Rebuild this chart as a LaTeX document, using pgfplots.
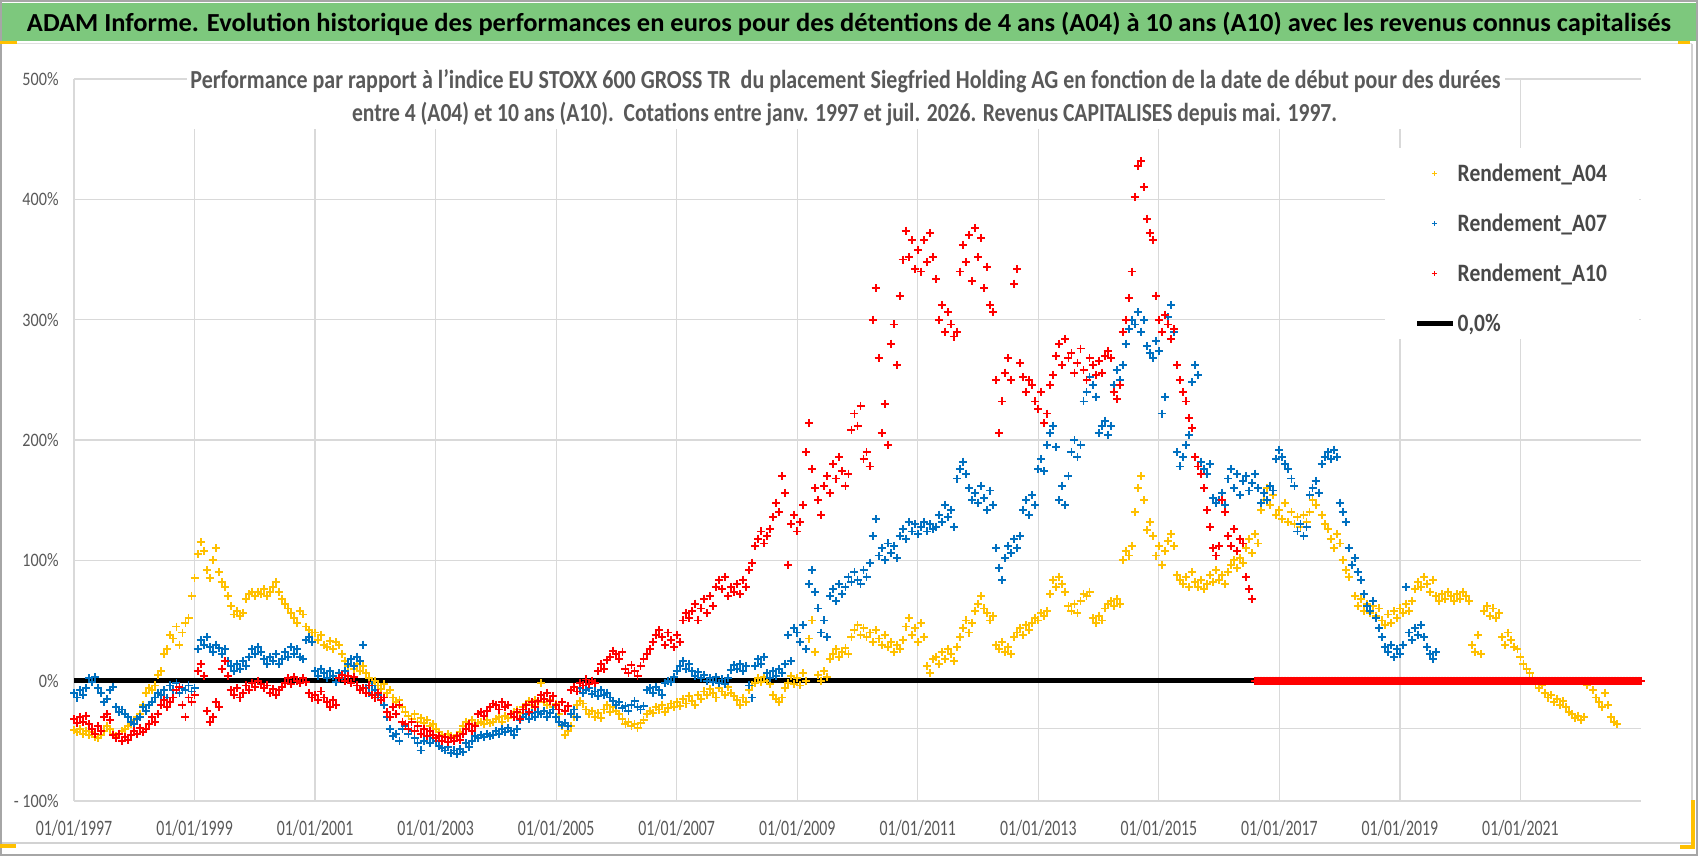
\documentclass[border=0pt]{standalone}
\usepackage{pgfplots}
\pgfplotsset{compat=1.18}
\usepackage{fontspec}
\setmainfont{Carlito}
\definecolor{cyel}{HTML}{FFC000}
\definecolor{cblu}{HTML}{0070C0}
\definecolor{cred}{HTML}{FF0000}
\definecolor{gridg}{HTML}{D9D9D9}
\definecolor{labg}{HTML}{595959}
\definecolor{legg}{HTML}{484848}
\definecolor{bann}{RGB}{125,200,125}
\newcommand{\xl}[1]{\scalebox{0.72}[1]{01/01/#1}}
\newcommand{\yl}[1]{\scalebox{0.85}[1]{#1}}
\newcommand{\lgt}[1]{\scalebox{0.86}[1]{\bfseries #1}}
\pgfplotsset{zeroleg/.style={legend image code/.code={\draw[##1, line width=2.3pt] (0pt,0pt) -- (18pt,0pt);}}}
\begin{document}
\begin{tikzpicture}
\fill[white] (0pt,0pt) rectangle (849pt,428pt);
\draw[gray!70, line width=0.8pt] (0.4pt,0.4pt) rectangle (848.6pt,427.6pt);
\fill[bann] (1.2pt,407.6pt) rectangle (847.8pt,426.6pt);
\draw[gray!25, line width=0.8pt] (1.2pt,406.3pt) -- (846pt,406.3pt);
\draw[gray!35, line width=0.6pt] (846pt,406pt) -- (846pt,6.5pt) -- (1.2pt,6.5pt);
\fill[cyel] (0pt,405.8pt) rectangle (8.5pt,407.6pt);
\fill[cyel] (839pt,405.8pt) rectangle (845pt,407.6pt);
\fill[cyel] (845.5pt,4.5pt) rectangle (847.5pt,28pt);
\fill[cyel] (840pt,3.5pt) rectangle (847.5pt,5.5pt);
\fill[cyel] (0pt,4pt) rectangle (8pt,6pt);
\node[anchor=base, inner sep=0pt] at (424.5pt,412.2pt) {\resizebox{822pt}{\height}{\fontsize{13}{16}\selectfont\bfseries ADAM Informe. Evolution historique des performances en euros pour des détentions de 4 ans (A04) à 10 ans (A10) avec les revenus connus capitalisés}};
\begin{axis}[
  at={(37pt,27.5pt)}, anchor=south west,
  scale only axis, width=783.5pt, height=361pt,
  xmin=0, xmax=26, ymin=-100, ymax=500,
  clip=false,
  xtick={0,2,...,24}, ytick={-100,0,...,500},
  xticklabels={\xl{1997},\xl{1999},\xl{2001},\xl{2003},\xl{2005},\xl{2007},\xl{2009},\xl{2011},\xl{2013},\xl{2015},\xl{2017},\xl{2019},\xl{2021}},
  yticklabels={\yl{- 100\%},\yl{0\%},\yl{100\%},\yl{200\%},\yl{300\%},\yl{400\%},\yl{500\%}},
  grid=major, major grid style={draw=gridg, line width=0.6pt},
  axis line style={draw=none}, major tick length=0pt,
  tick label style={text=labg},
  xticklabel style={anchor=base, inner sep=0pt, yshift=-17.5pt, font=\fontsize{11}{13}\selectfont},
  yticklabel style={anchor=east, inner sep=0pt, xshift=-7.5pt, font=\fontsize{9.5}{11}\selectfont},
  legend cell align=left,
  legend style={at={(rel axis cs:0.8556,0.8886)}, anchor=north west, draw=none, fill=none,
    inner sep=0pt, row sep=11.4pt, column sep=0pt, text=legg,
    font=\fontsize{12.5}{15}\selectfont,
    nodes={inner sep=1pt, text height=10pt, text depth=1.6pt}},
  legend image post style={mark size=1.3pt, line width=0.7pt},
  mk/.style={only marks, mark=+, mark size=2pt, line width=0.95pt},
]
\fill[white] (rel axis cs:0.8366,0.9044) rectangle (rel axis cs:0.9985,0.64);
\addplot[forget plot, draw=gridg, line width=0.6pt] coordinates {(0,-40) (26,-40)};
\addplot[forget plot, draw=black, line width=2.3pt] coordinates {(0,0) (19.6,0)};
\addplot[mk, color=cyel] coordinates {
(0,-41)(0.05,-43)(0.10,-40)(0.15,-44)(0.20,-42)(0.25,-45)(0.30,-43)(0.35,-47)(0.40,-48)(0.45,-45)
(0.50,-42)(0.55,-38)(0.60,-40)(0.65,-44)(0.70,-46)(0.75,-44)(0.80,-42)(0.85,-40)(0.90,-38)(0.95,-36)
(1.00,-33)(1.05,-30)(1.10,-28)(1.15,-20)(1.20,-10)(1.25,-6)(1.30,-8)(1.35,-4)(1.40,5)(1.45,8)
(1.50,22)(1.55,26)(1.60,38)(1.65,35)(1.70,45)(1.75,30)(1.80,40)(1.85,48)(1.90,52)(1.95,70)
(2.00,85)(2.05,105)(2.10,115)(2.15,108)(2.20,92)(2.25,85)(2.30,100)(2.35,110)(2.40,90)(2.45,82)
(2.50,78)(2.55,70)(2.60,62)(2.65,55)(2.70,58)(2.75,54)(2.80,56)(2.85,68)(2.90,72)(2.95,74)
(3.00,70)(3.05,74)(3.10,72)(3.15,76)(3.20,70)(3.25,74)(3.30,78)(3.35,82)(3.40,74)(3.45,68)
(3.50,64)(3.55,60)(3.60,56)(3.65,52)(3.70,48)(3.75,58)(3.80,55)(3.85,45)(3.90,42)(3.95,40)
(4.00,40)(4.05,34)(4.10,38)(4.15,30)(4.20,28)(4.25,33)(4.30,26)(4.35,32)(4.40,30)(4.45,22)
(4.50,16)(4.55,12)(4.60,18)(4.65,10)(4.70,14)(4.75,8)(4.80,12)(4.85,6)(4.90,2)(4.95,-2)
(5.00,0)(5.05,-4)(5.10,-7)(5.15,-3)(5.20,-10)(5.25,-8)(5.30,-14)(5.35,-18)(5.40,-16)(5.45,-22)
(5.50,-26)(5.55,-29)(5.60,-32)(5.65,-28)(5.70,-34)(5.75,-31)(5.80,-35)(5.85,-33)(5.90,-38)(5.95,-36)
(6.00,-40)(6.05,-43)(6.10,-45)(6.15,-47)(6.20,-44)(6.25,-46)(6.30,-48)(6.35,-45)(6.40,-43)(6.45,-38)
(6.50,-34)(6.55,-36)(6.60,-33)(6.65,-37)(6.70,-35)(6.75,-34)(6.80,-36)(6.85,-33)(6.90,-35)(6.95,-34)
(7.00,-32)(7.05,-30)(7.10,-34)(7.15,-29)(7.20,-31)(7.25,-28)(7.30,-26)(7.35,-24)(7.40,-27)(7.45,-22)
(7.50,-19)(7.55,-17)(7.60,-20)(7.65,-16)(7.70,-18)(7.75,-2)(7.80,-18)(7.85,-20)(7.90,-16)(7.95,-22)
(8.00,-19)(8.05,-28)(8.10,-38)(8.15,-45)(8.20,-42)(8.25,-38)(8.30,-30)(8.35,-20)(8.40,-17)(8.45,-19)
(8.50,-24)(8.55,-28)(8.60,-25)(8.65,-30)(8.70,-27)(8.75,-31)(8.80,-24)(8.85,-20)(8.90,-26)(8.95,-22)
(9.00,-25)(9.05,-28)(9.10,-32)(9.15,-36)(9.20,-34)(9.25,-38)(9.30,-36)(9.35,-39)(9.40,-35)(9.45,-33)
(9.50,-28)(9.55,-25)(9.60,-27)(9.65,-22)(9.70,-24)(9.75,-20)(9.80,-26)(9.85,-23)(9.90,-19)(9.95,-22)
(10.00,-18)(10.05,-21)(10.10,-15)(10.15,-19)(10.20,-13)(10.25,-17)(10.30,-20)(10.35,-12)(10.40,-15)(10.45,-9)
(10.50,-12)(10.55,-7)(10.60,-10)(10.65,-14)(10.70,-6)(10.75,-9)(10.80,-12)(10.85,-5)(10.90,-10)(10.95,-13)
(11.00,-16)(11.05,-20)(11.10,-14)(11.15,-18)(11.20,-8)(11.25,-4)(11.30,-2)(11.35,2)(11.40,-1)(11.45,3)
(11.50,0)(11.55,-3)(11.60,-12)(11.65,-15)(11.70,-18)(11.75,-14)(11.80,-6)(11.85,-2)(11.90,4)(11.95,-3)
(12.00,2)(12.05,-4)(12.10,6)(12.15,0)(12.20,35)(12.25,50)(12.30,24)(12.35,5)(12.40,0)(12.45,8)
(12.50,3)(12.55,18)(12.60,22)(12.65,26)(12.70,20)(12.75,24)(12.80,27)(12.85,22)(12.90,36)(12.95,42)
(13.00,46)(13.05,38)(13.10,44)(13.15,36)(13.20,40)(13.25,32)(13.30,42)(13.35,35)(13.40,30)(13.45,38)
(13.50,28)(13.55,32)(13.60,24)(13.65,30)(13.70,26)(13.75,34)(13.80,45)(13.85,52)(13.90,38)(13.95,44)
(14.00,32)(14.05,48)(14.10,36)(14.15,12)(14.20,6)(14.25,18)(14.30,20)(14.35,14)(14.40,24)(14.45,18)
(14.50,26)(14.55,22)(14.60,16)(14.65,28)(14.70,36)(14.75,44)(14.80,50)(14.85,40)(14.90,48)(14.95,58)
(15.00,64)(15.05,70)(15.10,60)(15.15,56)(15.20,50)(15.25,54)(15.30,30)(15.35,26)(15.40,32)(15.45,24)
(15.50,28)(15.55,22)(15.60,36)(15.65,40)(15.70,44)(15.75,38)(15.80,46)(15.85,42)(15.90,48)(15.95,52)
(16.00,50)(16.05,56)(16.10,54)(16.15,58)(16.20,72)(16.25,84)(16.30,78)(16.35,86)(16.40,80)(16.45,74)
(16.50,62)(16.55,58)(16.60,64)(16.65,56)(16.70,66)(16.75,72)(16.80,70)(16.85,74)(16.90,52)(16.95,48)
(17.00,54)(17.05,50)(17.10,60)(17.15,64)(17.20,66)(17.25,62)(17.30,68)(17.35,64)(17.40,100)(17.45,108)
(17.50,104)(17.55,112)(17.60,140)(17.65,160)(17.70,170)(17.75,150)(17.80,125)(17.85,132)(17.90,120)(17.95,104)
(18.00,112)(18.05,96)(18.10,108)(18.15,116)(18.20,122)(18.25,112)(18.30,88)(18.35,84)(18.40,80)(18.45,86)
(18.50,78)(18.55,90)(18.60,82)(18.65,78)(18.70,84)(18.75,76)(18.80,80)(18.85,88)(18.90,82)(18.95,92)
(19.00,84)(19.05,88)(19.10,80)(19.15,90)(19.20,96)(19.25,100)(19.30,94)(19.35,102)(19.40,98)(19.45,110)
(19.50,118)(19.55,106)(19.60,122)(19.65,114)(19.70,142)(19.75,150)(19.80,160)(19.85,146)(19.90,154)(19.95,138)
(20.00,142)(20.05,134)(20.10,148)(20.15,132)(20.20,140)(20.25,130)(20.30,136)(20.35,128)(20.40,138)(20.45,132)
(20.50,140)(20.55,150)(20.60,146)(20.65,156)(20.70,138)(20.75,130)(20.80,126)(20.85,118)(20.90,110)(20.95,122)
(21.00,114)(21.05,100)(21.10,92)(21.15,86)(21.20,96)(21.25,70)(21.30,62)(21.35,68)(21.40,58)(21.45,64)
(21.50,56)(21.55,62)(21.60,54)(21.65,60)(21.70,50)(21.75,46)(21.80,55)(21.85,48)(21.90,58)(21.95,52)
(22.00,60)(22.05,56)(22.10,64)(22.15,58)(22.20,66)(22.25,76)(22.30,82)(22.35,78)(22.40,86)(22.45,80)
(22.50,74)(22.55,84)(22.60,70)(22.65,66)(22.70,72)(22.75,68)(22.80,74)(22.85,70)(22.90,66)(22.95,72)
(23.00,68)(23.05,74)(23.10,70)(23.15,66)(23.20,30)(23.25,24)(23.30,38)(23.35,22)(23.40,58)(23.45,62)
(23.50,54)(23.55,60)(23.60,52)(23.65,56)(23.70,36)(23.75,30)(23.80,40)(23.85,34)(23.90,28)(23.95,26)
(24.00,20)(24.05,14)(24.10,10)(24.15,6)(24.20,2)(24.25,-2)(24.30,-6)(24.35,-4)(24.40,-10)(24.45,-14)
(24.50,-12)(24.55,-18)(24.60,-15)(24.65,-20)(24.70,-17)(24.75,-22)(24.80,-26)(24.85,-28)(24.90,-31)(24.95,-29)
(25.00,-33)(25.05,-30)(25.10,-4)(25.15,0)(25.20,-8)(25.25,-14)(25.30,-18)(25.35,-22)(25.40,-10)(25.45,-20)
(25.50,-30)(25.55,-34)(25.60,-36)
};
\addlegendentry{\lgt{Rendement\_A04}}
\addplot[mk, color=cblu] coordinates {
(0,-10)(0.05,-14)(0.10,-8)(0.15,-12)(0.20,-6)(0.25,2)(0.30,-1)(0.35,3)(0.40,-6)(0.45,-10)
(0.50,-18)(0.55,-15)(0.60,-8)(0.65,-5)(0.70,-22)(0.75,-26)(0.80,-24)(0.85,-28)(0.90,-30)(0.95,-34)
(1.00,-36)(1.05,-32)(1.10,-30)(1.15,-22)(1.20,-25)(1.25,-20)(1.30,-18)(1.35,-14)(1.40,-10)(1.45,-12)
(1.50,-8)(1.55,-14)(1.60,-4)(1.65,-8)(1.70,-2)(1.75,-10)(1.80,-6)(1.85,-8)(1.90,-4)(1.95,-9)
(2.00,-6)(2.05,26)(2.10,34)(2.15,30)(2.20,36)(2.25,28)(2.30,24)(2.35,30)(2.40,27)(2.45,22)
(2.50,26)(2.55,16)(2.60,12)(2.65,8)(2.70,14)(2.75,10)(2.80,16)(2.85,12)(2.90,20)(2.95,26)
(3.00,22)(3.05,28)(3.10,24)(3.15,18)(3.20,14)(3.25,20)(3.30,16)(3.35,22)(3.40,14)(3.45,18)
(3.50,24)(3.55,20)(3.60,28)(3.65,22)(3.70,26)(3.75,20)(3.80,18)(3.85,34)(3.90,36)(3.95,32)
(4.00,8)(4.05,4)(4.10,10)(4.15,6)(4.20,2)(4.25,8)(4.30,4)(4.35,-1)(4.40,6)(4.45,2)
(4.50,8)(4.55,14)(4.60,18)(4.65,12)(4.70,20)(4.75,16)(4.80,30)(4.85,-6)(4.90,-10)(4.95,-4)
(5.00,-8)(5.05,-12)(5.10,-14)(5.15,-20)(5.20,-30)(5.25,-40)(5.30,-46)(5.35,-44)(5.40,-50)(5.45,-40)
(5.50,-38)(5.55,-44)(5.60,-42)(5.65,-48)(5.70,-52)(5.75,-58)(5.80,-50)(5.85,-46)(5.90,-52)(5.95,-48)
(6.00,-50)(6.05,-54)(6.10,-56)(6.15,-58)(6.20,-55)(6.25,-60)(6.30,-58)(6.35,-61)(6.40,-57)(6.45,-59)
(6.50,-52)(6.55,-55)(6.60,-50)(6.65,-46)(6.70,-48)(6.75,-45)(6.80,-47)(6.85,-44)(6.90,-46)(6.95,-45)
(7.00,-42)(7.05,-44)(7.10,-40)(7.15,-43)(7.20,-39)(7.25,-42)(7.30,-45)(7.35,-40)(7.40,-33)(7.45,-30)
(7.50,-28)(7.55,-32)(7.60,-27)(7.65,-30)(7.70,-26)(7.75,-28)(7.80,-25)(7.85,-30)(7.90,-27)(7.95,-24)
(8.00,-30)(8.05,-34)(8.10,-37)(8.15,-35)(8.20,-38)(8.25,-28)(8.30,-24)(8.35,-30)(8.40,-6)(8.45,-10)
(8.50,-8)(8.55,-6)(8.60,-11)(8.65,-9)(8.70,-13)(8.75,-8)(8.80,-12)(8.85,-10)(8.90,-14)(8.95,-17)
(9.00,-20)(9.05,-18)(9.10,-23)(9.15,-21)(9.20,-25)(9.25,-20)(9.30,-17)(9.35,-22)(9.40,-24)(9.45,-21)
(9.50,-8)(9.55,-6)(9.60,-10)(9.65,-5)(9.70,-8)(9.75,-12)(9.80,-2)(9.85,0)(9.90,-1)(9.95,3)
(10.00,8)(10.05,12)(10.10,16)(10.15,10)(10.20,14)(10.25,8)(10.30,4)(10.35,7)(10.40,2)(10.45,5)
(10.50,0)(10.55,2)(10.60,-1)(10.65,3)(10.70,-2)(10.75,1)(10.80,-3)(10.85,2)(10.90,9)(10.95,13)
(11.00,10)(11.05,14)(11.10,8)(11.15,12)(11.20,-4)(11.25,-14)(11.30,12)(11.35,18)(11.40,14)(11.45,20)
(11.50,6)(11.55,2)(11.60,8)(11.65,4)(11.70,10)(11.75,6)(11.80,14)(11.85,38)(11.90,16)(11.95,44)
(12.00,40)(12.05,32)(12.10,46)(12.15,26)(12.20,80)(12.25,92)(12.30,74)(12.35,60)(12.40,40)(12.45,50)
(12.50,36)(12.55,70)(12.60,76)(12.65,66)(12.70,80)(12.75,72)(12.80,78)(12.85,86)(12.90,82)(12.95,90)
(13.00,84)(13.05,80)(13.10,92)(13.15,86)(13.20,98)(13.25,120)(13.30,134)(13.35,104)(13.40,110)(13.45,100)
(13.50,114)(13.55,106)(13.60,112)(13.65,102)(13.70,120)(13.75,126)(13.80,118)(13.85,132)(13.90,124)(13.95,130)
(14.00,122)(14.05,128)(14.10,132)(14.15,124)(14.20,130)(14.25,126)(14.30,128)(14.35,138)(14.40,132)(14.45,146)
(14.50,136)(14.55,142)(14.60,128)(14.65,168)(14.70,176)(14.75,182)(14.80,172)(14.85,160)(14.90,150)(14.95,156)
(15.00,148)(15.05,162)(15.10,152)(15.15,142)(15.20,158)(15.25,146)(15.30,110)(15.35,94)(15.40,84)(15.45,102)
(15.50,112)(15.55,106)(15.60,118)(15.65,110)(15.70,120)(15.75,142)(15.80,150)(15.85,138)(15.90,154)(15.95,146)
(16.00,176)(16.05,184)(16.10,174)(16.15,196)(16.20,206)(16.25,212)(16.30,194)(16.35,150)(16.40,162)(16.45,146)
(16.50,170)(16.55,190)(16.60,200)(16.65,186)(16.70,196)(16.75,232)(16.80,240)(16.85,252)(16.90,246)(16.95,236)
(17.00,206)(17.05,212)(17.10,216)(17.15,204)(17.20,212)(17.25,246)(17.30,258)(17.35,250)(17.40,262)(17.45,280)
(17.50,292)(17.55,300)(17.60,296)(17.65,306)(17.70,290)(17.75,300)(17.80,278)(17.85,272)(17.90,268)(17.95,282)
(18.00,274)(18.05,222)(18.10,236)(18.15,302)(18.20,312)(18.25,290)(18.30,190)(18.35,178)(18.40,186)(18.45,196)
(18.50,204)(18.55,248)(18.60,262)(18.65,254)(18.70,182)(18.75,176)(18.80,172)(18.85,180)(18.90,152)(18.95,148)
(19.00,150)(19.05,156)(19.10,146)(19.15,168)(19.20,176)(19.25,160)(19.30,172)(19.35,154)(19.40,166)(19.45,170)
(19.50,158)(19.55,164)(19.60,172)(19.65,160)(19.70,148)(19.75,156)(19.80,150)(19.85,162)(19.90,158)(19.95,184)
(20.00,192)(20.05,186)(20.10,180)(20.15,176)(20.20,168)(20.25,162)(20.30,124)(20.35,130)(20.40,120)(20.45,128)
(20.50,154)(20.55,160)(20.60,166)(20.65,156)(20.70,180)(20.75,186)(20.80,190)(20.85,184)(20.90,192)(20.95,186)
(21.00,148)(21.05,140)(21.10,132)(21.15,110)(21.20,96)(21.25,102)(21.30,90)(21.35,84)(21.40,72)(21.45,62)
(21.50,58)(21.55,66)(21.60,52)(21.65,44)(21.70,36)(21.75,28)(21.80,24)(21.85,30)(21.90,20)(21.95,26)
(22.00,22)(22.05,30)(22.10,78)(22.15,40)(22.20,34)(22.25,44)(22.30,38)(22.35,46)(22.40,36)(22.45,28)
(22.50,22)(22.55,18)(22.60,24)
};
\addlegendentry{\lgt{Rendement\_A07}}
\addplot[mk, color=cred] coordinates {
(0,-32)(0.05,-35)(0.10,-30)(0.15,-34)(0.20,-29)(0.25,-36)(0.30,-40)(0.35,-44)(0.40,-38)(0.45,-42)
(0.50,-30)(0.55,-28)(0.60,-33)(0.65,-45)(0.70,-48)(0.75,-44)(0.80,-50)(0.85,-47)(0.90,-49)(0.95,-45)
(1.00,-42)(1.05,-44)(1.10,-39)(1.15,-43)(1.20,-40)(1.25,-36)(1.30,-30)(1.35,-34)(1.40,-28)(1.45,-20)
(1.50,-16)(1.55,-22)(1.60,-18)(1.65,-14)(1.70,-8)(1.75,-5)(1.80,-20)(1.85,-30)(1.90,-14)(1.95,-18)
(2.00,-12)(2.05,8)(2.10,14)(2.15,4)(2.20,-25)(2.25,-34)(2.30,-30)(2.35,-18)(2.40,-22)(2.45,10)
(2.50,16)(2.55,4)(2.60,-8)(2.65,-12)(2.70,-6)(2.75,-14)(2.80,-10)(2.85,-4)(2.90,-8)(2.95,-2)
(3.00,-5)(3.05,0)(3.10,-3)(3.15,-6)(3.20,-4)(3.25,-10)(3.30,-7)(3.35,-12)(3.40,-8)(3.45,-5)
(3.50,-2)(3.55,2)(3.60,-3)(3.65,3)(3.70,0)(3.75,-2)(3.80,2)(3.85,-1)(3.90,-10)(3.95,-14)
(4.00,-12)(4.05,-16)(4.10,-9)(4.15,-14)(4.20,-18)(4.25,-22)(4.30,-16)(4.35,-20)(4.40,2)(4.45,5)
(4.50,0)(4.55,4)(4.60,-2)(4.65,3)(4.70,-4)(4.75,-8)(4.80,-6)(4.85,-10)(4.90,-4)(4.95,-12)
(5.00,-14)(5.05,-10)(5.10,-16)(5.15,-14)(5.20,-26)(5.25,-30)(5.30,-22)(5.35,-28)(5.40,-20)(5.45,-34)
(5.50,-36)(5.55,-40)(5.60,-34)(5.65,-42)(5.70,-38)(5.75,-44)(5.80,-40)(5.85,-46)(5.90,-42)(5.95,-45)
(6.00,-48)(6.05,-46)(6.10,-50)(6.15,-47)(6.20,-51)(6.25,-48)(6.30,-50)(6.35,-46)(6.40,-49)(6.45,-44)
(6.50,-40)(6.55,-36)(6.60,-42)(6.65,-38)(6.70,-28)(6.75,-26)(6.80,-29)(6.85,-25)(6.90,-22)(6.95,-19)
(7.00,-20)(7.05,-24)(7.10,-18)(7.15,-22)(7.20,-20)(7.25,-28)(7.30,-30)(7.35,-26)(7.40,-32)(7.45,-24)
(7.50,-20)(7.55,-26)(7.60,-18)(7.65,-22)(7.70,-17)(7.75,-12)(7.80,-15)(7.85,-10)(7.90,-17)(7.95,-13)
(8.00,-20)(8.05,-24)(8.10,-18)(8.15,-25)(8.20,-21)(8.25,-8)(8.30,-5)(8.35,-9)(8.40,-2)(8.45,-4)
(8.50,1)(8.55,-3)(8.60,0)(8.65,-2)(8.70,8)(8.75,14)(8.80,10)(8.85,17)(8.90,20)(8.95,25)
(9.00,22)(9.05,18)(9.10,24)(9.15,10)(9.20,6)(9.25,13)(9.30,8)(9.35,4)(9.40,12)(9.45,18)
(9.50,22)(9.55,26)(9.60,32)(9.65,38)(9.70,42)(9.75,36)(9.80,30)(9.85,40)(9.90,34)(9.95,28)
(10.00,38)(10.05,32)(10.10,50)(10.15,56)(10.20,52)(10.25,58)(10.30,64)(10.35,50)(10.40,60)(10.45,68)
(10.50,56)(10.55,70)(10.60,62)(10.65,78)(10.70,84)(10.75,76)(10.80,86)(10.85,70)(10.90,78)(10.95,74)
(11.00,80)(11.05,72)(11.10,84)(11.15,78)(11.20,92)(11.25,98)(11.30,112)(11.35,118)(11.40,124)(11.45,114)
(11.50,120)(11.55,126)(11.60,136)(11.65,148)(11.70,140)(11.75,170)(11.80,156)(11.85,96)(11.90,130)(11.95,138)
(12.00,124)(12.05,132)(12.10,146)(12.15,190)(12.20,214)(12.25,176)(12.30,160)(12.35,150)(12.40,138)(12.45,162)
(12.50,170)(12.55,156)(12.60,180)(12.65,168)(12.70,186)(12.75,174)(12.80,162)(12.85,172)(12.90,208)(12.95,222)
(13.00,212)(13.05,228)(13.10,184)(13.15,190)(13.20,178)(13.25,300)(13.30,326)(13.35,268)(13.40,206)(13.45,230)
(13.50,196)(13.55,280)(13.60,296)(13.65,262)(13.70,320)(13.75,350)(13.80,374)(13.85,352)(13.90,366)(13.95,342)
(14.00,358)(14.05,340)(14.10,366)(14.15,348)(14.20,372)(14.25,352)(14.30,334)(14.35,300)(14.40,312)(14.45,290)
(14.50,306)(14.55,296)(14.60,286)(14.65,290)(14.70,340)(14.75,362)(14.80,348)(14.85,370)(14.90,332)(14.95,376)
(15.00,352)(15.05,368)(15.10,326)(15.15,344)(15.20,312)(15.25,306)(15.30,250)(15.35,206)(15.40,232)(15.45,256)
(15.50,268)(15.55,250)(15.60,330)(15.65,342)(15.70,264)(15.75,252)(15.80,240)(15.85,250)(15.90,246)(15.95,232)
(16.00,226)(16.05,240)(16.10,214)(16.15,222)(16.20,246)(16.25,254)(16.30,270)(16.35,280)(16.40,262)(16.45,284)
(16.50,268)(16.55,272)(16.60,256)(16.65,264)(16.70,276)(16.75,258)(16.80,250)(16.85,268)(16.90,262)(16.95,254)
(17.00,266)(17.05,256)(17.10,270)(17.15,274)(17.20,268)(17.25,240)(17.30,234)(17.35,246)(17.40,290)(17.45,300)
(17.50,318)(17.55,340)(17.60,402)(17.65,428)(17.70,432)(17.75,410)(17.80,384)(17.85,372)(17.90,366)(17.95,320)
(18.00,300)(18.05,290)(18.10,304)(18.15,296)(18.20,284)(18.25,292)(18.30,262)(18.35,250)(18.40,240)(18.45,232)
(18.50,218)(18.55,210)(18.60,186)(18.65,178)(18.70,172)(18.75,160)(18.80,142)(18.85,128)(18.90,110)(18.95,104)
(19.00,112)(19.05,150)(19.10,140)(19.15,120)(19.20,112)(19.25,126)(19.30,108)(19.35,118)(19.40,114)(19.45,86)
(19.50,76)(19.55,68)
(19.600,0)(19.625,0)(19.650,0)(19.675,0)(19.700,0)(19.725,0)(19.750,0)(19.775,0)(19.800,0)(19.825,0)(19.850,0)(19.875,0)(19.900,0)(19.925,0)(19.950,0)(19.975,0)
(20.000,0)(20.025,0)(20.050,0)(20.075,0)(20.100,0)(20.125,0)(20.150,0)(20.175,0)(20.200,0)(20.225,0)(20.250,0)(20.275,0)(20.300,0)(20.325,0)(20.350,0)(20.375,0)(20.400,0)(20.425,0)(20.450,0)(20.475,0)
(20.500,0)(20.525,0)(20.550,0)(20.575,0)(20.600,0)(20.625,0)(20.650,0)(20.675,0)(20.700,0)(20.725,0)(20.750,0)(20.775,0)(20.800,0)(20.825,0)(20.850,0)(20.875,0)(20.900,0)(20.925,0)(20.950,0)(20.975,0)
(21.000,0)(21.025,0)(21.050,0)(21.075,0)(21.100,0)(21.125,0)(21.150,0)(21.175,0)(21.200,0)(21.225,0)(21.250,0)(21.275,0)(21.300,0)(21.325,0)(21.350,0)(21.375,0)(21.400,0)(21.425,0)(21.450,0)(21.475,0)
(21.500,0)(21.525,0)(21.550,0)(21.575,0)(21.600,0)(21.625,0)(21.650,0)(21.675,0)(21.700,0)(21.725,0)(21.750,0)(21.775,0)(21.800,0)(21.825,0)(21.850,0)(21.875,0)(21.900,0)(21.925,0)(21.950,0)(21.975,0)
(22.000,0)(22.025,0)(22.050,0)(22.075,0)(22.100,0)(22.125,0)(22.150,0)(22.175,0)(22.200,0)(22.225,0)(22.250,0)(22.275,0)(22.300,0)(22.325,0)(22.350,0)(22.375,0)(22.400,0)(22.425,0)(22.450,0)(22.475,0)
(22.500,0)(22.525,0)(22.550,0)(22.575,0)(22.600,0)(22.625,0)(22.650,0)(22.675,0)(22.700,0)(22.725,0)(22.750,0)(22.775,0)(22.800,0)(22.825,0)(22.850,0)(22.875,0)(22.900,0)(22.925,0)(22.950,0)(22.975,0)
(23.000,0)(23.025,0)(23.050,0)(23.075,0)(23.100,0)(23.125,0)(23.150,0)(23.175,0)(23.200,0)(23.225,0)(23.250,0)(23.275,0)(23.300,0)(23.325,0)(23.350,0)(23.375,0)(23.400,0)(23.425,0)(23.450,0)(23.475,0)
(23.500,0)(23.525,0)(23.550,0)(23.575,0)(23.600,0)(23.625,0)(23.650,0)(23.675,0)(23.700,0)(23.725,0)(23.750,0)(23.775,0)(23.800,0)(23.825,0)(23.850,0)(23.875,0)(23.900,0)(23.925,0)(23.950,0)(23.975,0)
(24.000,0)(24.025,0)(24.050,0)(24.075,0)(24.100,0)(24.125,0)(24.150,0)(24.175,0)(24.200,0)(24.225,0)(24.250,0)(24.275,0)(24.300,0)(24.325,0)(24.350,0)(24.375,0)(24.400,0)(24.425,0)(24.450,0)(24.475,0)
(24.500,0)(24.525,0)(24.550,0)(24.575,0)(24.600,0)(24.625,0)(24.650,0)(24.675,0)(24.700,0)(24.725,0)(24.750,0)(24.775,0)(24.800,0)(24.825,0)(24.850,0)(24.875,0)(24.900,0)(24.925,0)(24.950,0)(24.975,0)
(25.000,0)(25.025,0)(25.050,0)(25.075,0)(25.100,0)(25.125,0)(25.150,0)(25.175,0)(25.200,0)(25.225,0)(25.250,0)(25.275,0)(25.300,0)(25.325,0)(25.350,0)(25.375,0)(25.400,0)(25.425,0)(25.450,0)(25.475,0)
(25.500,0)(25.525,0)(25.550,0)(25.575,0)(25.600,0)(25.625,0)(25.650,0)(25.675,0)(25.700,0)(25.725,0)(25.750,0)(25.775,0)(25.800,0)(25.825,0)(25.850,0)(25.875,0)(25.900,0)(25.925,0)(25.950,0)(25.975,0)(26.000,0)
};
\addlegendentry{\lgt{Rendement\_A10}}
\addlegendimage{black, zeroleg}
\addlegendentry{\lgt{0,0\%}}
\end{axis}
\fill[white] (93.5pt,363.5pt) rectangle (752.5pt,398pt);
\node[anchor=base, inner sep=0pt, text=labg] at (422.75pt,383.8pt) {\resizebox{655pt}{\height}{\fontsize{13}{15}\selectfont\bfseries Performance par rapport à l'indice EU STOXX 600 GROSS TR\ \ du placement Siegfried Holding AG en fonction de la date de début pour des durées}};
\node[anchor=base, inner sep=0pt, text=labg] at (422.25pt,367.2pt) {\resizebox{492.5pt}{\height}{\fontsize{13}{15}\selectfont\bfseries entre 4 (A04) et 10 ans (A10).\ \ Cotations entre janv. 1997 et juil. 2026. Revenus CAPITALISES depuis mai. 1997.}};
\end{tikzpicture}
\end{document}
